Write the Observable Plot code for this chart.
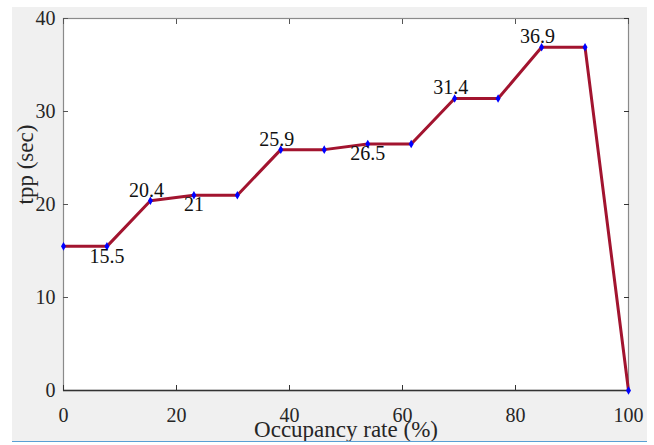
<!DOCTYPE html>
<html>
<head>
<meta charset="utf-8">
<script src="https://cdn.jsdelivr.net/npm/d3@7"></script>
<script src="https://cdn.jsdelivr.net/npm/@observablehq/plot@0.6"></script>
<style>
  body { margin: 0; background: white; }
  #wrap { position: relative; width: 654px; height: 445px; overflow: hidden; }
  #bg { position: absolute; left: 12px; top: 7px; width: 635px; height: 434px; background: #f0f0f0; }
  #chart { position: absolute; left: 0; top: 0; }
  #cut { position: absolute; left: 12px; top: 441px; width: 635px; height: 4px; background: white; border-top: 1.5px solid #5a9fd4; }
</style>
</head>
<body>
<div id="wrap">
  <div id="bg"></div>
  <div id="chart"></div>
  <div id="cut"></div>
</div>
<script>
// Occupancy rate (%) at each measured step
const occupancy = [0, 7.69, 15.38, 23.08, 30.77, 38.46, 46.15, 53.85, 61.54, 69.23, 76.92, 84.62, 92.31, 100];
// tpp (sec)
const tpp = [15.5, 15.5, 20.4, 21, 21, 25.9, 25.9, 26.5, 26.5, 31.4, 31.4, 36.9, 36.9, 0];
// annotated points (index into arrays) and their placement
const labelIndex = [1, 2, 3, 5, 7, 9, 11];
const labelText = ["15.5", "20.4", "21", "25.9", "26.5", "31.4", "36.9"];
const labelSide = ["below", "above", "below", "above", "below", "above", "above"];
const xTicks = [0, 20, 40, 60, 80, 100];
const yTicks = [0, 10, 20, 30, 40];

const data = occupancy.map((x, i) => ({x, y: tpp[i]}));
const labels = labelIndex.map((k, i) => ({x: occupancy[k], y: tpp[k], text: labelText[i], side: labelSide[i]}));
const above = labels.filter(d => d.side === "above");
const below = labels.filter(d => d.side === "below");

const font = "'Liberation Serif', 'Times New Roman', serif";
const blank = () => "";

const plot = Plot.plot({
  width: 654,
  height: 445,
  marginLeft: 63,
  marginRight: 26,
  marginTop: 18,
  marginBottom: 55,
  style: {background: "transparent", fontFamily: font, fontSize: "20px", color: "#262626"},
  x: {domain: [0, 100]},
  y: {domain: [0, 40]},
  marks: [
    Plot.frame({fill: "white", stroke: "#8a8a8a", strokeWidth: 1.2}),
    Plot.axisX({ticks: xTicks, tickSize: -5, tickPadding: 22, tickFormat: d => String(d), label: null, fontSize: 20, stroke: "#333"}),
    Plot.axisX({anchor: "top", ticks: xTicks, tickSize: -5, tickFormat: blank, label: null, stroke: "#555"}),
    Plot.axisY({ticks: yTicks, tickSize: -5, tickPadding: 13, tickFormat: d => String(d), label: null, fontSize: 20, stroke: "#555"}),
    Plot.axisY({anchor: "right", ticks: yTicks, tickSize: -5, tickFormat: blank, label: null, stroke: "#333"}),
    Plot.ruleY([0], {stroke: "#333", strokeWidth: 1.3}),
    Plot.line(data, {x: "x", y: "y", stroke: "#A2142F", strokeWidth: 3}),
    Plot.dot(data, {x: "x", y: "y", symbol: "diamond", r: 2.6, fill: "#0000ff", stroke: "none"}),
    Plot.text(above, {x: "x", y: "y", text: "text", lineAnchor: "bottom", dy: -4, dx: -4, fontSize: 20, fill: "#111"}),
    Plot.text(below, {x: "x", y: "y", text: "text", lineAnchor: "top", dy: 2, fontSize: 20, fill: "#111"}),
    Plot.text(["Occupancy rate (%)"], {frameAnchor: "bottom", dy: 46, lineAnchor: "bottom", fontSize: 23, fill: "#262626"}),
    Plot.text(["tpp (sec)"], {frameAnchor: "left", dx: -38, rotate: -90, fontSize: 23, fill: "#262626"})
  ]
});
document.getElementById("chart").appendChild(plot);
</script>
</body>
</html>
